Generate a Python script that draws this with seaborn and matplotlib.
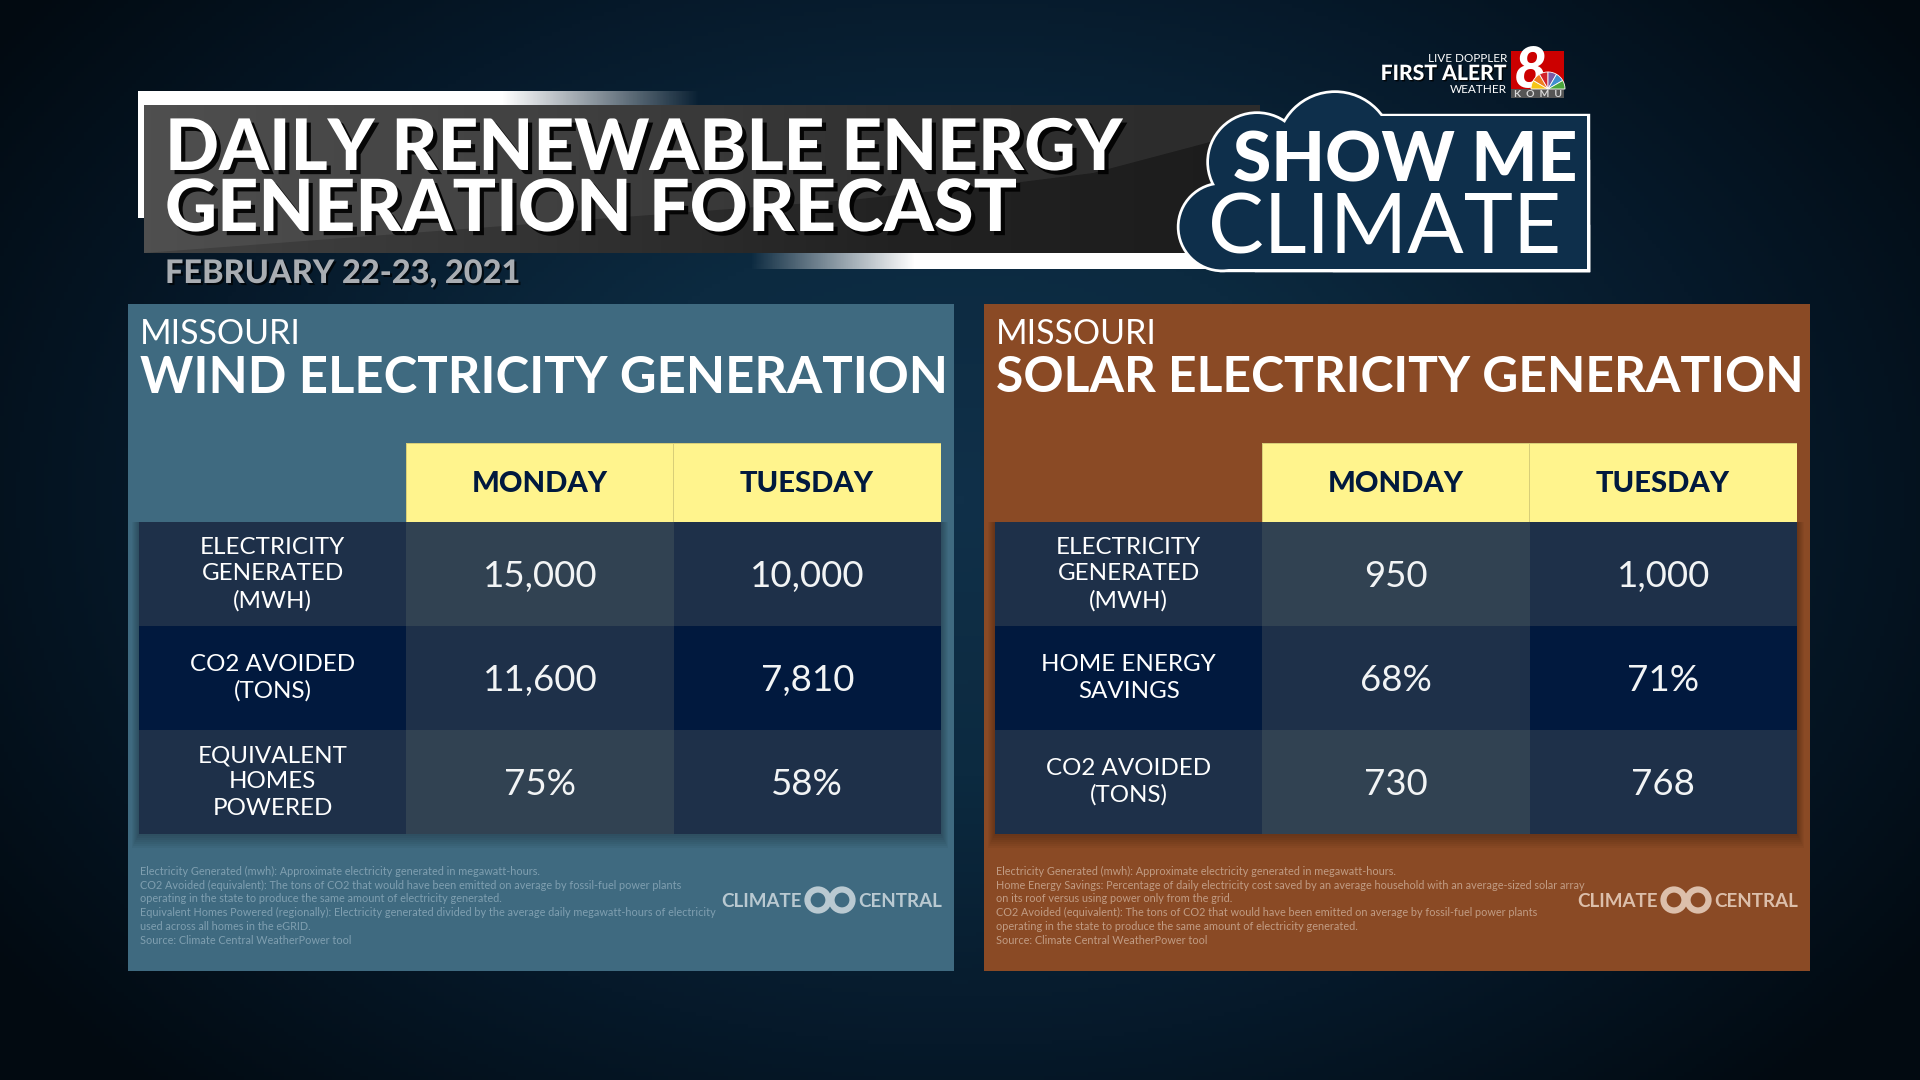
import matplotlib
matplotlib.use("Agg")
import matplotlib.pyplot as plt
import matplotlib.patheffects as pe
from matplotlib.colors import ListedColormap, LinearSegmentedColormap
from matplotlib.patches import Circle, Rectangle, Wedge
import numpy as np
import seaborn as sns

# ── data ─────────────────────────────────────────────────────────────────────
DAYS = ["MONDAY", "TUESDAY"]

WIND_ROWS = ["ELECTRICITY\nGENERATED\n(MWH)", "CO2 AVOIDED\n(TONS)", "EQUIVALENT\nHOMES\nPOWERED"]
WIND_MONDAY = ["15,000", "11,600", "75%"]
WIND_TUESDAY = ["10,000", "7,810", "58%"]
WIND_NOTES = [
    "Electricity Generated (mwh): Approximate electricity generated in megawatt-hours.",
    "CO2 Avoided (equivalent): The tons of CO2 that would have been emitted on average by fossil-fuel power plants",
    "operating in the state to produce the same amount of electricity generated.",
    "Equivalent Homes Powered (regionally): Electricity generated divided by the average daily megawatt-hours of electricity",
    "used across all homes in the eGRID.",
    "Source: Climate Central WeatherPower tool",
]

SOLAR_ROWS = ["ELECTRICITY\nGENERATED\n(MWH)", "HOME ENERGY\nSAVINGS", "CO2 AVOIDED\n(TONS)"]
SOLAR_MONDAY = ["950", "68%", "730"]
SOLAR_TUESDAY = ["1,000", "71%", "768"]
SOLAR_NOTES = [
    "Electricity Generated (mwh): Approximate electricity generated in megawatt-hours.",
    "Home Energy Savings: Percentage of daily electricity cost saved by an average household with an average-sized solar array",
    "on its roof versus using power only from the grid.",
    "CO2 Avoided (equivalent): The tons of CO2 that would have been emitted on average by fossil-fuel power plants",
    "operating in the state to produce the same amount of electricity generated.",
    "Source: Climate Central WeatherPower tool",
]

# cell shade per table position: 0 darkest, 2 lightest
SHADES = [[1, 2, 1], [0, 1, 0], [1, 2, 1]]
CELL_COLORS = ["#01193e", "#1e3049", "#314252"]
YELLOW = "#fff48d"
W, H = 1920, 1080

sns.set_theme(style="white")
plt.rcParams["font.family"] = ["Lato", "DejaVu Sans"]

fig = plt.figure(figsize=(19.2, 10.8), dpi=100)
ax = fig.add_axes([0, 0, 1, 1])
ax.set_xlim(0, W)
ax.set_ylim(H, 0)
ax.axis("off")


def px_axes(x0, y0, x1, y1):
    return fig.add_axes([x0 / W, 1 - y1 / H, (x1 - x0) / W, (y1 - y0) / H])


def rect(x0, y0, x1, y1, color, z=1, alpha=1):
    ax.add_patch(Rectangle((x0, y0), x1 - x0, y1 - y0, fc=color, ec="none", zorder=z, alpha=alpha))


# ── background ───────────────────────────────────────────────────────────────
yy, xx = np.mgrid[0:H:270j, 0:W:480j]
dist = np.sqrt(((xx - 960) / 1180) ** 2 + ((yy - 500) / 820) ** 2)
bg_cmap = LinearSegmentedColormap.from_list("bg", ["#103049", "#0c2a40", "#06192a", "#020a11"])
ax.imshow(np.clip(dist, 0, 1), cmap=bg_cmap, extent=(0, W, H, 0), aspect="auto", zorder=0, vmin=0, vmax=1)
ax.set_xlim(0, W)
ax.set_ylim(H, 0)


# ── banner ───────────────────────────────────────────────────────────────────
def fade_bar(x0, x1, y0, y1, reverse=False):
    cols = np.ones((1, 200, 4))
    cols[0, :, 3] = np.linspace(0, 1, 200) if reverse else np.linspace(1, 0, 200)
    ax.imshow(cols, extent=(x0, x1, y1, y0), aspect="auto", zorder=2)


rect(138, 91, 144, 218, "white", 2)
rect(138, 91, 503, 105, "white", 2)
fade_bar(503, 700, 91, 105)
rect(914, 253, 1260, 269, "white", 2)
fade_bar(750, 914, 253, 269, reverse=True)

grad = np.linspace(0, 1, 300)[None, :]
banner_cmap = LinearSegmentedColormap.from_list("banner", ["#424242", "#343434", "#222222", "#1c1c1c"])
ax.imshow(grad, cmap=banner_cmap, extent=(144, 1260, 253, 105), aspect="auto", zorder=3)
ax.fill([144, 1260, 1260, 1210, 1093, 1021, 850, 144], [105, 105, 132, 142, 173, 182, 200, 253],
        color="white", alpha=0.07, zorder=3, lw=0)
ax.set_xlim(0, W)
ax.set_ylim(H, 0)

shadow = [pe.withSimplePatchShadow(offset=(3, -3), shadow_rgbFace="black", alpha=0.9)]
ax.text(165, 170, "DAILY RENEWABLE ENERGY", color="white", fontsize=51.2, fontweight="black",
        va="baseline", zorder=5, path_effects=shadow)
ax.text(165, 231, "GENERATION FORECAST", color="white", fontsize=51.8, fontweight="black",
        va="baseline", zorder=5, path_effects=shadow)
ax.text(165, 283, "FEBRUARY 22-23, 2021", color="#a9adb2", fontsize=23.4, fontweight="black",
        va="baseline", zorder=5, path_effects=[pe.withSimplePatchShadow(offset=(1.5, -1.5), shadow_rgbFace="black", alpha=0.7)])

# ── show me climate cloud ────────────────────────────────────────────────────
NAVY = "#0e2f4b"
cloud_circles = [(1335, 150, 57), (1257, 162, 48), (1222, 227, 42.5)]
cloud_rects = [(1222, 227, 1587, 269), (1257, 162, 1587, 269), (1335, 116, 1587, 269)]
for z, ec, lw in [(6, "white", 3.9), (7, NAVY, 0)]:
    for cx, cy, r in cloud_circles:
        ax.add_patch(Circle((cx, cy), r, fc=NAVY, ec=ec, lw=lw, zorder=z))
    for x0, y0, x1, y1 in cloud_rects:
        ax.add_patch(Rectangle((x0, y0), x1 - x0, y1 - y0, fc=NAVY, ec=ec, lw=lw, zorder=z))
ax.text(1233, 182, "SHOW ME", color="white", fontsize=50, fontweight="black", va="baseline", zorder=8)
ax.text(1385, 253, "CLIMATE", color="white", fontsize=60, fontweight="regular", ha="center", va="baseline", zorder=8)

# ── station logo ─────────────────────────────────────────────────────────────
ax.text(1507, 62, "LIVE DOPPLER", color="white", fontsize=8.5, ha="right", va="baseline", zorder=8)
ax.text(1507, 80, "FIRST ALERT", color="white", fontsize=15.2, fontweight="black", ha="right", va="baseline", zorder=8,
        path_effects=[pe.withSimplePatchShadow(offset=(1, -1), shadow_rgbFace="black", alpha=0.8)])
ax.text(1507, 93, "WEATHER", color="white", fontsize=8.5, ha="right", va="baseline", zorder=8)
rect(1511, 51, 1564, 89, "#cc0000", 8)
rect(1511, 89, 1564, 98, "#555555", 8)
ax.text(1530, 88, "8", color="white", fontsize=41, fontweight="black", ha="center", va="baseline", zorder=9, style="italic")
peacock = ["#f5c518", "#ee7f1f", "#d2232a", "#7b5aa6", "#3f8fd0", "#4aa63c"]
for i, c in enumerate(peacock):
    ax.add_patch(Wedge((1548, 89), 17, -180 + i * 30, -150 + i * 30, fc=c, ec="white", lw=0.6, zorder=10))
ax.text(1537.5, 97, "K  O  M  U", color="#d8d8d8", fontsize=7.5, fontweight="bold", ha="center", va="baseline", zorder=11)


# ── panels ───────────────────────────────────────────────────────────────────
def draw_panel(dx, bg, note_color, logo_color, heading, head_base, head_size, rows, monday, tuesday, notes):
    rect(128 + dx, 304, 954 + dx, 971, bg, 1)
    ax.text(140 + dx, 344, "MISSOURI", color="white", fontsize=24.5, fontweight="regular", va="baseline", zorder=3)
    ax.text(140 + dx, head_base, heading, color="white", fontsize=head_size, fontweight="bold", va="baseline", zorder=3)

    # table drop shadow
    for i in range(8):
        rect(139 + dx - i, 522, 941 + dx + i, 834 + 2 * i, "black", 2, alpha=0.035)

    head_ax = px_axes(405.5 + dx, 443, 941 + dx, 522)
    sns.heatmap(
        np.zeros((1, 2)), ax=head_ax, cmap=ListedColormap([YELLOW]), cbar=False,
        annot=np.array([DAYS]), fmt="", linewidths=0.5, linecolor="#d8ce78",
        xticklabels=False, yticklabels=False,
        annot_kws={"color": "#01193e", "fontsize": 21, "fontweight": "black"},
    )
    for t in head_ax.texts:
        t.set_y(t.get_position()[1] + 0.025)

    body_ax = px_axes(139 + dx, 522, 941 + dx, 834)
    labels = np.array([rows, monday, tuesday]).T
    sns.heatmap(
        np.array(SHADES), ax=body_ax, cmap=ListedColormap(CELL_COLORS), vmin=-0.5, vmax=2.5, cbar=False,
        annot=labels, fmt="", xticklabels=False, yticklabels=False,
        annot_kws={"color": "white", "fontsize": 26.4},
    )
    for k, t in enumerate(body_ax.texts):
        if k % 3 == 0:
            t.set_fontsize(17.4)
            t.set_linespacing(1.32)
        else:
            t.set_color("#f2f4f5")
            t.set_y(t.get_position()[1] + 0.02)

    for i, line in enumerate(notes):
        ax.text(139.5 + dx, 875 + i * 13.7, line, color=note_color, fontsize=7.85, va="baseline", zorder=3)

    ax.text(721 + dx, 907, "CLIMATE", color=logo_color, fontsize=13.5, fontweight="bold", va="baseline", zorder=3)
    ax.text(858 + dx, 907, "CENTRAL", color=logo_color, fontsize=13.5, fontweight="bold", va="baseline", zorder=3)
    for cx in (818, 842):
        ax.add_patch(Circle((cx + dx, 900), 10.5, fc="none", ec=logo_color, lw=4.5, zorder=3))


draw_panel(0, "#3f6a80", "#7f9fb0", "#b9c9d1", "WIND ELECTRICITY GENERATION", 393, 36.5,
           WIND_ROWS, WIND_MONDAY, WIND_TUESDAY, WIND_NOTES)
draw_panel(856, "#8a4a25", "#c19c84", "#dcbfab", "SOLAR ELECTRICITY GENERATION", 392, 35.8,
           SOLAR_ROWS, SOLAR_MONDAY, SOLAR_TUESDAY, SOLAR_NOTES)

fig.savefig("out.png", dpi=100)
